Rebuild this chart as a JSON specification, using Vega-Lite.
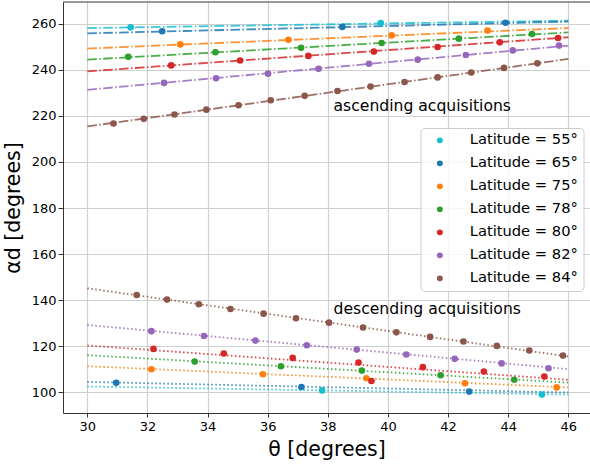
{
  "$schema": "https://vega.github.io/schema/vega-lite/v6.json",
  "width": 527,
  "height": 411,
  "autosize": "none",
  "padding": {"left": 63, "top": 2, "right": 0, "bottom": 53},
  "config": {
    "font": "DejaVu Sans",
    "view": {"stroke": null},
    "axis": {
      "domainColor": "#333333",
      "domainWidth": 1,
      "tickColor": "#333333",
      "tickSize": 5,
      "labelFontSize": 13,
      "labelColor": "#000000",
      "labelFont": "DejaVu Sans",
      "titleFont": "DejaVu Sans",
      "titleFontSize": 20.5,
      "titleFontWeight": "normal",
      "titleColor": "#000000",
      "gridColor": "#cfcfcf",
      "gridWidth": 1.2
    },
    "legend": {
      "labelFont": "DejaVu Sans"
    }
  },
  "datasets": {
    "pts": [
      {"lat":"Latitude = 55°","t":31.44,"a":258.4},{"lat":"Latitude = 55°","t":39.76,"a":260.3},
      {"lat":"Latitude = 65°","t":32.49,"a":256.7},{"lat":"Latitude = 65°","t":38.48,"a":258.6},{"lat":"Latitude = 65°","t":43.91,"a":260.4},
      {"lat":"Latitude = 75°","t":33.09,"a":251.0},{"lat":"Latitude = 75°","t":36.69,"a":253.0},{"lat":"Latitude = 75°","t":40.12,"a":254.9},{"lat":"Latitude = 75°","t":43.31,"a":257.0},
      {"lat":"Latitude = 78°","t":31.36,"a":245.6},{"lat":"Latitude = 78°","t":34.26,"a":247.6},{"lat":"Latitude = 78°","t":37.11,"a":249.5},{"lat":"Latitude = 78°","t":39.79,"a":251.6},{"lat":"Latitude = 78°","t":42.36,"a":253.5},{"lat":"Latitude = 78°","t":44.79,"a":255.5},
      {"lat":"Latitude = 80°","t":32.79,"a":241.9},{"lat":"Latitude = 80°","t":35.08,"a":244.0},{"lat":"Latitude = 80°","t":37.35,"a":246.0},{"lat":"Latitude = 80°","t":39.53,"a":247.9},{"lat":"Latitude = 80°","t":41.65,"a":249.9},{"lat":"Latitude = 80°","t":43.72,"a":251.9},{"lat":"Latitude = 80°","t":45.66,"a":253.8},
      {"lat":"Latitude = 82°","t":32.55,"a":234.3},{"lat":"Latitude = 82°","t":34.28,"a":236.3},{"lat":"Latitude = 82°","t":36.01,"a":238.3},{"lat":"Latitude = 82°","t":37.69,"a":240.4},{"lat":"Latitude = 82°","t":39.37,"a":242.6},{"lat":"Latitude = 82°","t":40.99,"a":244.4},{"lat":"Latitude = 82°","t":42.59,"a":246.4},{"lat":"Latitude = 82°","t":44.15,"a":248.4},{"lat":"Latitude = 82°","t":45.69,"a":250.5},
      {"lat":"Latitude = 84°","t":30.87,"a":216.7},{"lat":"Latitude = 84°","t":31.88,"a":218.7},{"lat":"Latitude = 84°","t":32.90,"a":220.6},{"lat":"Latitude = 84°","t":33.96,"a":222.7},{"lat":"Latitude = 84°","t":35.03,"a":224.6},{"lat":"Latitude = 84°","t":36.10,"a":226.8},{"lat":"Latitude = 84°","t":37.23,"a":228.7},{"lat":"Latitude = 84°","t":38.32,"a":230.8},{"lat":"Latitude = 84°","t":39.42,"a":232.7},{"lat":"Latitude = 84°","t":40.55,"a":234.7},{"lat":"Latitude = 84°","t":41.65,"a":236.7},{"lat":"Latitude = 84°","t":42.77,"a":238.8},{"lat":"Latitude = 84°","t":43.86,"a":240.8},{"lat":"Latitude = 84°","t":44.97,"a":242.8},
      {"lat":"Latitude = 55°","t":37.81,"a":100.9},{"lat":"Latitude = 55°","t":45.12,"a":99.1},
      {"lat":"Latitude = 65°","t":30.96,"a":104.2},{"lat":"Latitude = 65°","t":37.12,"a":102.4},{"lat":"Latitude = 65°","t":42.70,"a":100.4},
      {"lat":"Latitude = 75°","t":32.13,"a":110.1},{"lat":"Latitude = 75°","t":35.84,"a":107.9},{"lat":"Latitude = 75°","t":39.28,"a":106.2},{"lat":"Latitude = 75°","t":42.56,"a":104.0},{"lat":"Latitude = 75°","t":45.61,"a":102.2},
      {"lat":"Latitude = 78°","t":33.57,"a":113.4},{"lat":"Latitude = 78°","t":36.44,"a":111.4},{"lat":"Latitude = 78°","t":39.13,"a":109.5},{"lat":"Latitude = 78°","t":41.75,"a":107.5},{"lat":"Latitude = 78°","t":44.20,"a":105.5},
      {"lat":"Latitude = 80°","t":32.20,"a":118.9},{"lat":"Latitude = 80°","t":34.54,"a":116.9},{"lat":"Latitude = 80°","t":36.83,"a":115.0},{"lat":"Latitude = 80°","t":39.02,"a":113.0},{"lat":"Latitude = 80°","t":39.45,"a":105.0},{"lat":"Latitude = 80°","t":41.16,"a":111.0},{"lat":"Latitude = 80°","t":43.19,"a":109.1},{"lat":"Latitude = 80°","t":45.20,"a":106.9},
      {"lat":"Latitude = 82°","t":32.13,"a":126.6},{"lat":"Latitude = 82°","t":33.88,"a":124.5},{"lat":"Latitude = 82°","t":35.59,"a":122.5},{"lat":"Latitude = 82°","t":37.30,"a":120.5},{"lat":"Latitude = 82°","t":38.96,"a":118.6},{"lat":"Latitude = 82°","t":40.61,"a":116.5},{"lat":"Latitude = 82°","t":42.22,"a":114.6},{"lat":"Latitude = 82°","t":43.78,"a":112.6},{"lat":"Latitude = 82°","t":45.34,"a":110.5},
      {"lat":"Latitude = 84°","t":31.64,"a":142.3},{"lat":"Latitude = 84°","t":32.65,"a":140.3},{"lat":"Latitude = 84°","t":33.71,"a":138.3},{"lat":"Latitude = 84°","t":34.76,"a":136.2},{"lat":"Latitude = 84°","t":35.86,"a":134.2},{"lat":"Latitude = 84°","t":36.94,"a":132.2},{"lat":"Latitude = 84°","t":38.04,"a":130.3},{"lat":"Latitude = 84°","t":39.17,"a":128.2},{"lat":"Latitude = 84°","t":40.28,"a":126.1},{"lat":"Latitude = 84°","t":41.40,"a":124.1},{"lat":"Latitude = 84°","t":42.51,"a":122.1},{"lat":"Latitude = 84°","t":43.62,"a":120.2},{"lat":"Latitude = 84°","t":44.70,"a":118.2},{"lat":"Latitude = 84°","t":45.82,"a":116.0}
    ],
    "lines": [
      {"lat":"Latitude = 55°","dir":"asc","t":30,"a":258.1},{"lat":"Latitude = 55°","dir":"asc","t":46,"a":261.3},
      {"lat":"Latitude = 65°","dir":"asc","t":30,"a":255.8},{"lat":"Latitude = 65°","dir":"asc","t":46,"a":260.9},
      {"lat":"Latitude = 75°","dir":"asc","t":30,"a":249.2},{"lat":"Latitude = 75°","dir":"asc","t":46,"a":258.1},
      {"lat":"Latitude = 78°","dir":"asc","t":30,"a":244.4},{"lat":"Latitude = 78°","dir":"asc","t":46,"a":256.2},
      {"lat":"Latitude = 80°","dir":"asc","t":30,"a":239.3},{"lat":"Latitude = 80°","dir":"asc","t":46,"a":254.1},
      {"lat":"Latitude = 82°","dir":"asc","t":30,"a":231.3},{"lat":"Latitude = 82°","dir":"asc","t":46,"a":250.5},
      {"lat":"Latitude = 84°","dir":"asc","t":30,"a":215.4},{"lat":"Latitude = 84°","dir":"asc","t":46,"a":244.7},
      {"lat":"Latitude = 55°","dir":"desc","t":30,"a":102.6},{"lat":"Latitude = 55°","dir":"desc","t":46,"a":99.1},
      {"lat":"Latitude = 65°","dir":"desc","t":30,"a":104.6},{"lat":"Latitude = 65°","dir":"desc","t":46,"a":100.0},
      {"lat":"Latitude = 75°","dir":"desc","t":30,"a":111.4},{"lat":"Latitude = 75°","dir":"desc","t":46,"a":102.2},
      {"lat":"Latitude = 78°","dir":"desc","t":30,"a":116.2},{"lat":"Latitude = 78°","dir":"desc","t":46,"a":104.3},
      {"lat":"Latitude = 80°","dir":"desc","t":30,"a":120.4},{"lat":"Latitude = 80°","dir":"desc","t":46,"a":105.5},
      {"lat":"Latitude = 82°","dir":"desc","t":30,"a":129.3},{"lat":"Latitude = 82°","dir":"desc","t":46,"a":110.1},
      {"lat":"Latitude = 84°","dir":"desc","t":30,"a":145.2},{"lat":"Latitude = 84°","dir":"desc","t":46,"a":115.6}
    ]
  },
  "resolve": {"legend": {"color": "independent"}},
  "layer": [
    {
      "data": {"name": "lines"},
      "mark": {"type": "line", "strokeWidth": 1.8, "opacity": 0.85, "clip": true},
      "encoding": {
        "x": {"field": "t", "type": "quantitative",
              "scale": {"domain": [29.19, 46.72], "zero": false, "nice": false},
              "axis": {"values": [30,32,34,36,38,40,42,44,46], "title": "θ [degrees]", "titlePadding": 6, "labelPadding": 3, "tickSize": 4}},
        "y": {"field": "a", "type": "quantitative",
              "scale": {"domain": [91.1, 269.4], "zero": false, "nice": false},
              "axis": {"values": [100,120,140,160,180,200,220,240,260], "title": "αd [degrees]", "titlePadding": 8, "labelPadding": 2}},
        "color": {"field": "lat", "type": "nominal", "legend": null,
                  "scale": {"domain": ["Latitude = 55°","Latitude = 65°","Latitude = 75°","Latitude = 78°","Latitude = 80°","Latitude = 82°","Latitude = 84°"],
                            "range": ["#17becf","#1f77b4","#ff7f0e","#2ca02c","#d62728","#9467bd","#8c564b"]}},
        "strokeDash": {"field": "dir", "type": "nominal", "legend": null,
                       "scale": {"domain": ["asc","desc"], "range": [[9.6,2.4,1.5,2.4],[1.5,2.5]]}}
      }
    },
    {
      "data": {"name": "pts"},
      "mark": {"type": "circle", "size": 44, "opacity": 1},
      "encoding": {
        "x": {"field": "t", "type": "quantitative"},
        "y": {"field": "a", "type": "quantitative"},
        "color": {"field": "lat", "type": "nominal",
                  "legend": {"title": null, "orient": "none", "legendX": 357.5, "legendY": 126,
                             "symbolType": "circle", "symbolSize": 35, "symbolOffset": 7,
                             "labelFontSize": 14.7, "labelColor": "#000000", "labelOffset": 22.5,
                             "rowPadding": 7, "padding": 5, "cornerRadius": 4,
                             "fillColor": "rgba(255,255,255,0.8)", "strokeColor": "#cccccc",
                             "symbolStrokeWidth": 0}}
      }
    },
    {
      "data": {"values": [{}]},
      "mark": {"type": "text", "text": "ascending acquisitions", "align": "left", "baseline": "alphabetic", "fontSize": 15.6, "color": "#000000"},
      "encoding": {"x": {"datum": 38.19}, "y": {"datum": 222.3}}
    },
    {
      "data": {"values": [{}]},
      "mark": {"type": "text", "text": "descending acquisitions", "align": "left", "baseline": "alphabetic", "fontSize": 15.6, "color": "#000000"},
      "encoding": {"x": {"datum": 38.19}, "y": {"datum": 133.9}}
    },
    {
      "data": {"values": [{}]},
      "mark": {"type": "rule", "color": "#333333", "strokeWidth": 1},
      "encoding": {"y": {"datum": 269.4}}
    }
  ]
}
